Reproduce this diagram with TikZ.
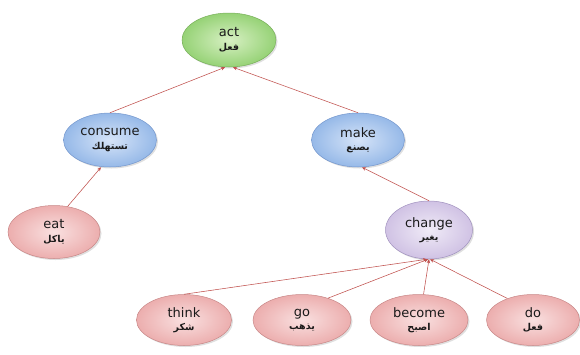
\documentclass[tikz,border=0pt]{standalone}
\usepackage{fontspec}
\setmainfont{DejaVu Sans}
\newfontfamily\enfont{DejaVu Sans}
\newfontfamily\arfont[Script=Arabic]{DejaVu Sans Bold}
\TeXXeTstate=1
\usetikzlibrary{shapes.geometric,shadows,arrows.meta}
\definecolor{arrc}{HTML}{C0504D}
\definecolor{txt}{HTML}{1A1A1A}
\newcommand{\lbl}[2]{{\enfont\fontsize{13}{15}\selectfont #1}\\[1.5pt]{\arfont\fontsize{9.5}{11}\selectfont\beginR #2\endR}}
\tikzset{
  ell/.style={ellipse, inner sep=0pt, minimum height=54pt, align=center, line width=0.5pt, text=txt,
    drop shadow={opacity=0.25, shadow xshift=1.5pt, shadow yshift=-1.5pt}},
  greenbox/.style={ell, draw={rgb,255:red,120;green,175;blue,90}, inner color={rgb,255:red,215;green,240;blue,195}, outer color={rgb,255:red,150;green,210;blue,118}, minimum width=94pt},
  bluebox/.style={ell, draw={rgb,255:red,115;green,150;blue,205}, inner color={rgb,255:red,214;green,228;blue,248}, outer color={rgb,255:red,150;green,185;blue,232}, minimum width=93pt},
  pinkbox/.style={ell, draw={rgb,255:red,200;green,135;blue,135}, inner color={rgb,255:red,249;green,224;blue,224}, outer color={rgb,255:red,236;green,174;blue,174}, minimum width=95pt, minimum height=51pt},
  lilacbox/.style={ell, draw={rgb,255:red,160;green,145;blue,190}, inner color={rgb,255:red,240;green,235;blue,247}, outer color={rgb,255:red,208;green,194;blue,228}, minimum width=87pt, minimum height=58pt},
  arr/.style={draw=arrc, line width=0.55pt, -{Stealth[length=4pt,width=3.5pt]}}
}
\begin{document}
\begin{tikzpicture}[x=1pt,y=-1pt]
\useasboundingbox (0,0) rectangle (580,354);
\node[greenbox] (act) at (229,40) {\lbl{act}{فعل}};
\node[bluebox] (consume) at (110,140) {\lbl{consume}{تستهلك}};
\node[bluebox] (make) at (358,140) {\lbl{make}{يصنع}};
\node[pinkbox, minimum width=92pt, minimum height=53pt] (eat) at (54,232) {\lbl{eat}{ياكل}};
\node[lilacbox] (change) at (429,230) {\lbl{change}{يغير}};
\node[pinkbox] (think) at (184,320) {\lbl{think}{شكر}};
\node[pinkbox, minimum width=98pt] (go) at (302,320) {\lbl{go}{يذهب}};
\node[pinkbox, minimum width=98pt] (become) at (419,320) {\lbl{become}{اصبح}};
\node[pinkbox, minimum width=93pt] (dox) at (533,320) {\lbl{do}{فعل}};
\draw[arr] (consume.north) -- ([xshift=-4pt]act.south);
\draw[arr] (make.north) -- ([xshift=4pt]act.south);
\draw[arr] (eat.62) -- ([xshift=-9pt]consume.south);
\draw[arr] (change.north) -- ([xshift=4pt]make.south);
\draw[arr] (think.north) -- ([xshift=-2pt]change.south);
\draw[arr] (go.40) -- ([xshift=-1pt]change.south);
\draw[arr] (become.80) -- (change.south);
\draw[arr] (dox.140) -- ([xshift=1pt]change.south);
\end{tikzpicture}
\end{document}
